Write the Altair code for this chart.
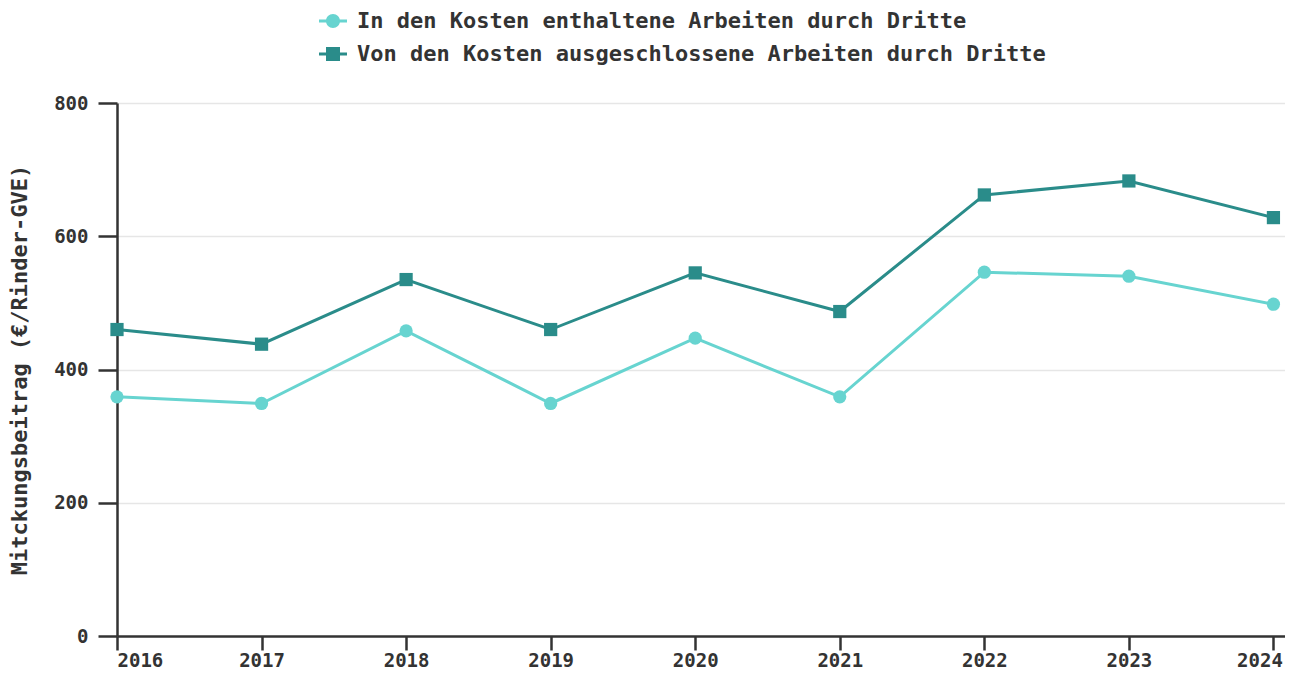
import altair as alt
import pandas as pd

years = [2016, 2017, 2018, 2019, 2020, 2021, 2022, 2023, 2024]
series_names = [
    "In den Kosten enthaltene Arbeiten durch Dritte",
    "Von den Kosten ausgeschlossene Arbeiten durch Dritte",
]
enthalten = [359, 349, 458, 349, 447, 359, 546, 540, 498]
ausgeschlossen = [460, 438, 535, 460, 545, 487, 662, 683, 628]
y_ticks = [0, 200, 400, 600, 800]
colors = ["#67d4d0", "#2a8c8a"]

rows = []
for i, y in enumerate(years):
    rows.append({"Jahr": y, "Wert": enthalten[i], "Serie": series_names[0]})
    rows.append({"Jahr": y, "Wert": ausgeschlossen[i], "Serie": series_names[1]})
df = pd.DataFrame(rows)

FONT = "DejaVu Sans Mono"
TXT = "#333333"

# legend symbols (unit box = 14px): marker with a line through it
circle_path = ("M -1,0 A 1,1 0 1 1 1,0 A 1,1 0 1 1 -1,0 Z "
               "M -2,-0.21 H -0.98 V 0.21 H -2 Z M 0.98,-0.21 H 2 V 0.21 H 0.98 Z")
square_path = ("M -1,-1 H 1 V 1 H -1 Z "
               "M -2,-0.21 H -0.98 V 0.21 H -2 Z M 0.98,-0.21 H 2 V 0.21 H 0.98 Z")

x_enc = alt.X("Jahr:Q",
              scale=alt.Scale(domain=[2016, 2024.08], nice=False, zero=False),
              axis=alt.Axis(values=years, format="d", title=None, grid=False,
                            tickSize=14, labelPadding=1,
                            labelOffset=alt.ExprRef(expr="datum.value == 2024 ? -14 : 0")))
y_enc = alt.Y("Wert:Q",
              scale=alt.Scale(domain=[0, 800], nice=False),
              axis=alt.Axis(values=y_ticks, title="Mitckungsbeitrag (€/Rinder-GVE)",
                            grid=True, tickSize=19, labelPadding=10, titlePadding=22))
color_nolegend = alt.Color("Serie:N", scale=alt.Scale(domain=series_names, range=colors), legend=None)

legend_props = dict(title=None, orient="none", direction="vertical",
                    legendX=205, legendY=-93, labelLimit=0)

base = alt.Chart(df)
lines = base.mark_line(strokeWidth=3).encode(x=x_enc, y=y_enc, color=color_nolegend)
points = base.mark_point(filled=True, opacity=1, size=175).encode(
    x=x_enc, y=y_enc, color=color_nolegend,
    shape=alt.Shape("Serie:N", scale=alt.Scale(domain=series_names, range=["circle", "square"]), legend=None),
)
legend_layer = base.transform_filter("datum.Wert < 0").mark_point(filled=True, opacity=1).encode(
    x=x_enc, y=y_enc,
    color=alt.Color("Serie:N", scale=alt.Scale(domain=series_names, range=colors),
                    legend=alt.Legend(**legend_props)),
    shape=alt.Shape("Serie:N", scale=alt.Scale(domain=series_names, range=[circle_path, square_path]),
                    legend=alt.Legend(**legend_props)),
)

chart = alt.layer(lines, points, legend_layer).resolve_scale(
    color="independent", shape="independent"
).properties(
    width=1168, height=533,
    padding={"left": 0, "top": 2, "right": 0, "bottom": 0},
).configure_view(stroke=None).configure_axis(
    domainColor=TXT, domainWidth=2.5, tickColor=TXT, tickWidth=2.5,
    labelFont=FONT, labelFontWeight="bold", labelFontSize=19, labelColor=TXT,
    titleFont=FONT, titleFontWeight="bold", titleFontSize=22, titleColor=TXT,
    gridColor="#e6e6e6", gridWidth=1.5,
).configure_legend(
    labelFont=FONT, labelFontWeight="bold", labelFontSize=22, labelColor=TXT,
    symbolSize=196, symbolStrokeWidth=0, rowPadding=11, labelOffset=13,
    padding=0,
)

chart.save("out.html", embed_options={"renderer": "svg", "actions": False})
